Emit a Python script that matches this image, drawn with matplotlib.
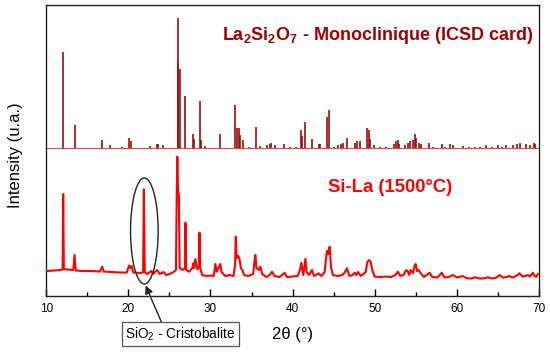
import numpy as np
import matplotlib
matplotlib.use("Agg")
import matplotlib.pyplot as plt
from matplotlib.patches import Ellipse

plt.rcParams['font.family'] = ['Liberation Sans', 'DejaVu Sans']
plt.rcParams['mathtext.fontset'] = 'custom'
plt.rcParams['mathtext.rm'] = 'Liberation Sans'
plt.rcParams['mathtext.bf'] = 'Liberation Sans:bold'

# ICSD reference card La2Si2O7 (monoclinic): 2theta and relative intensity (%)
ref_2theta = [12.07, 13.45, 16.78, 17.71, 19.25, 20.10, 20.34, 22.62, 23.50, 23.63,
              24.28, 26.02, 26.10, 26.23, 26.96, 27.88, 28.00, 28.70, 28.82, 29.39,
              31.17, 33.04, 33.24, 33.44, 33.56, 33.93, 34.70, 35.51, 36.00, 36.85,
              37.21, 37.42, 37.82, 39.00, 39.73, 40.38, 40.99, 41.19, 41.56, 42.32,
              43.21, 43.38, 44.23, 44.43, 45.04, 45.52, 45.94, 46.13, 46.62, 47.59,
              47.83, 48.20, 49.10, 49.29, 49.46, 49.90, 50.60, 51.40, 52.34, 52.63,
              52.82, 52.94, 53.64, 54.00, 54.33, 54.65, 54.85, 55.06, 55.38, 55.67,
              56.56, 57.08, 58.18, 58.60, 59.11, 59.51, 60.73, 61.50, 62.20, 62.80,
              63.58, 64.30, 64.99, 65.50, 66.01, 66.81, 67.30, 67.63, 68.36, 68.85,
              69.37, 69.57]
ref_int = [74, 18, 6, 2, 1, 8, 5, 1.5, 3, 3,
           2, 100, 65, 61, 40, 11, 7, 36, 6, 1.5,
           11, 33, 15, 15, 10, 6, 1, 16, 1.5, 2,
           3, 4, 2, 3, 1, 1, 14, 9, 20, 7,
           3, 3, 24, 29, 1, 2, 3, 4, 8, 4,
           5, 5, 15, 14, 7, 2, 1, 1, 3, 5,
           6, 3, 2, 4, 5, 6, 11, 8, 4, 3,
           4, 1, 3, 1, 3, 2, 1.5, 1, 1, 1,
           2, 1, 2, 1, 2, 2.5, 3, 4, 3, 2,
           4, 3]

meas_2theta = [10.0, 11.0, 11.8, 12.0, 12.07, 12.15, 12.6, 13.3, 13.45, 13.6,
               14.5, 15.5, 16.5, 16.81, 17.0, 18.0, 19.0, 19.8, 20.1, 20.25,
               20.4, 20.6, 21.5, 21.8, 21.89, 22.0, 22.3, 22.8, 23.0, 23.5,
               23.8, 24.3, 24.6, 25.0, 25.5, 25.8, 25.88, 25.96, 26.05, 26.15,
               26.25, 26.6, 26.9, 26.96, 27.05, 27.4, 27.8, 27.88, 28.0, 28.17,
               28.3, 28.42, 28.6, 28.66, 28.75, 29.0, 29.5, 30.0, 30.4, 30.6,
               30.75, 30.95, 31.2, 31.35, 31.8, 32.3, 32.8, 33.0, 33.08, 33.2,
               33.4, 33.56, 33.7, 33.89, 34.1, 34.6, 35.2, 35.4, 35.47, 35.6,
               35.9, 36.08, 36.3, 36.8, 37.2, 37.5, 37.8, 38.4, 39.04, 39.3,
               40.0, 40.6, 40.9, 41.07, 41.3, 41.5, 41.56, 41.7, 42.0, 42.36,
               42.6, 43.18, 43.5, 43.9, 44.1, 44.19, 44.35, 44.51, 44.7, 44.9,
               45.5, 46.0, 46.3, 46.62, 46.9, 47.3, 47.56, 47.75, 47.96, 48.3,
               48.9, 49.1, 49.3, 49.5, 49.7, 49.99, 50.6, 51.3, 52.0, 52.5,
               52.82, 53.1, 53.5, 53.84, 54.04, 54.2, 54.37, 54.65, 54.85, 54.98,
               55.15, 55.34, 55.67, 56.0, 56.68, 57.0, 57.6, 58.18, 58.5, 59.0,
               59.51, 60.0, 60.73, 61.2, 61.8, 62.27, 62.8, 63.3, 63.77, 64.3,
               64.8, 65.2, 65.6, 66.0, 66.41, 66.8, 67.2, 67.63, 68.0, 68.3,
               68.64, 68.9, 69.25, 69.5, 69.66, 69.86]
meas_int = [25, 25.5, 26, 27, 102, 27, 26.5, 26, 41, 25.5,
            25, 25, 24.5, 29.3, 24.5, 24, 23.5, 23.5, 30.5, 28,
            30, 23.5, 23, 24, 106.7, 24, 22, 25, 22, 26,
            22, 24, 21, 22, 24, 26, 91, 139.3, 106, 101,
            28, 26, 28, 73.3, 26, 24.3, 28, 32.7, 28, 37,
            30, 26.7, 30, 63.3, 28, 21, 20, 20.5, 20, 32,
            24.3, 28, 32, 24, 20, 21, 20, 31, 59.3, 38,
            40, 36, 28, 26, 21, 20, 22, 38, 41, 28,
            26, 29.3, 22, 19, 21, 24.3, 20, 19, 23.3, 19,
            19.5, 20, 26, 33.3, 21, 34, 37.3, 24, 21, 26,
            20, 22.7, 20, 24, 40, 45.3, 42, 49.3, 28, 21,
            20, 21, 23, 27.7, 20, 21, 23.3, 21, 24, 20,
            24, 34, 36, 34.3, 26, 19.3, 19, 19.5, 19, 21,
            24.3, 20, 21, 26, 24.3, 21, 26, 22.7, 30, 32,
            25, 26, 22, 19, 23.3, 19, 18.5, 23.3, 18.5, 19,
            21, 18.5, 20, 17.7, 17.5, 18.7, 17.5, 17.7, 18.7, 17.5,
            18.5, 21, 18.5, 19, 20, 18.5, 20, 22.7, 19.5, 20,
            21, 19.5, 23.3, 19.5, 19.3, 22]

ref_offset = 148
ref_scale = 1.30

fig = plt.figure(figsize=(5.5, 3.52), dpi=100)
ax = fig.add_axes([0.084, 0.159, 0.896, 0.827])

# reference card sticks
ax.axhline(ref_offset, color='#cc5555', lw=0.8, zorder=1)
ax.vlines(ref_2theta, ref_offset, ref_offset + np.array(ref_int) * ref_scale,
          color='#9b0d0d', lw=1.2, zorder=2)

# measured pattern
ax.plot(meas_2theta, meas_int, color='#ff0000', lw=1.5, zorder=3)

ax.text(378, 352 - 35, 'La$_\\mathbf{2}$Si$_\\mathbf{2}$O$_\\mathbf{7}$ - Monoclinique (ICSD card)',
        transform=None, color='#a00000', fontsize=13, fontweight='bold',
        ha='center', va='center')
ax.text(390, 352 - 188, 'Si-La (1500°C)', transform=None, color='#ff0000',
        fontsize=13.3, fontweight='bold', ha='center', va='center')

# cristobalite annotation
ax.add_patch(Ellipse((21.95, 65), 3.36, 106, fill=False, ec='#222222', lw=1.0, zorder=4))
ax.annotate('SiO$_2$ - Cristobalite', xy=(22.1, 10.5), xycoords='data',
            xytext=(180.5, 352 - 334), textcoords='figure pixels',
            ha='center', va='center', fontsize=9.8, annotation_clip=False,
            bbox=dict(boxstyle='square,pad=0.22', fc='white', ec='#555555', lw=0.9),
            arrowprops=dict(arrowstyle='-|>', color='#222222', lw=1.0,
                            mutation_scale=12, relpos=(0.34, 1.0), shrinkA=0, shrinkB=0))

ax.set_xlim(10, 70)
ax.set_ylim(0, 291)
ax.set_xticks(np.arange(10, 71, 10))
ax.set_xticks(np.arange(15, 70, 10), minor=True)
ax.set_yticks([])
ax.tick_params(axis='x', which='major', direction='in', length=5, width=1, pad=5, labelsize=8.5)
ax.tick_params(axis='x', which='minor', direction='in', length=3, width=1)
for s in ax.spines.values():
    s.set_linewidth(1.0)
    s.set_color('#222222')

ax.set_xlabel('2θ (°)', fontsize=12, labelpad=9)
ax.set_ylabel('Intensity (u.a.)', fontsize=12)
ax.yaxis.set_label_coords(-0.063, 0.483)
ax.yaxis.label.set_va('center')

fig.savefig('out.png', dpi=100)
